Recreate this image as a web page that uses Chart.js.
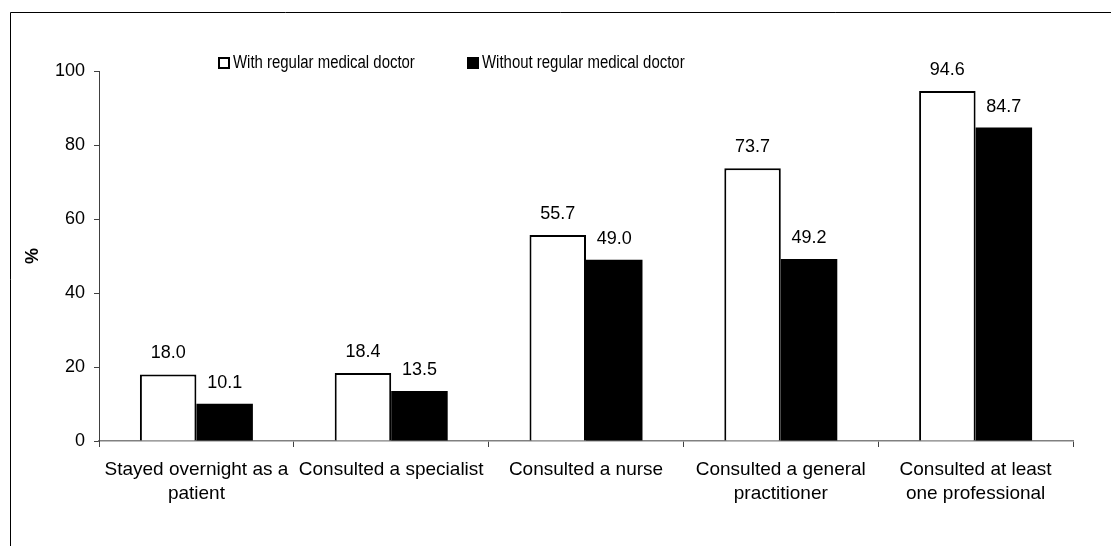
<!DOCTYPE html>
<html>
<head>
<meta charset="utf-8">
<script src="https://cdn.jsdelivr.net/npm/chart.js@4/dist/chart.umd.min.js"></script>
<style>
html,body{margin:0;padding:0;background:#fff;}
#wrap{width:1111px;height:546px;position:relative;}
</style>
</head>
<body>
<div id="wrap"><canvas id="c" width="1111" height="546"></canvas></div>
<script>
const categories = [
  ['Stayed overnight as a', 'patient'],
  ['Consulted a specialist'],
  ['Consulted a nurse'],
  ['Consulted a general', 'practitioner'],
  ['Consulted at least', 'one professional']
];
const seriesNames = ['With regular medical doctor', 'Without regular medical doctor'];
const withDoctor = [18.0, 18.4, 55.7, 73.7, 94.6];
const withoutDoctor = [10.1, 13.5, 49.0, 49.2, 84.7];
const yTicks = [0, 20, 40, 60, 80, 100];

const FONT = "'Liberation Sans', Arial, sans-serif";

const framePlugin = {
  id: 'frame',
  beforeDraw(chart) {
    const ctx = chart.ctx;
    ctx.save();
    ctx.fillStyle = '#fff';
    ctx.fillRect(0, 0, chart.width, chart.height);
    ctx.strokeStyle = '#000';
    ctx.lineWidth = 1;
    ctx.beginPath();
    ctx.moveTo(10.5, chart.height);
    ctx.lineTo(10.5, 12.5);
    ctx.lineTo(chart.width, 12.5);
    ctx.stroke();
    ctx.restore();
  }
};

const valueLabelPlugin = {
  id: 'valueLabels',
  afterDatasetsDraw(chart) {
    const ctx = chart.ctx;
    ctx.save();
    ctx.font = '18px ' + FONT;
    ctx.fillStyle = '#000';
    ctx.textAlign = 'center';
    ctx.textBaseline = 'middle';
    chart.data.datasets.forEach((ds, di) => {
      const meta = chart.getDatasetMeta(di);
      meta.data.forEach((bar, i) => {
        ctx.fillText(ds.data[i].toFixed(1), bar.x, bar.y - 21);
      });
    });
    ctx.restore();
  }
};

const legendPlugin = {
  id: 'customLegend',
  afterDraw(chart) {
    const ctx = chart.ctx;
    const xs = [218, 467];
    const cy = 63;
    ctx.save();
    ctx.font = '18px ' + FONT;
    ctx.textBaseline = 'middle';
    ctx.textAlign = 'left';
    chart.data.datasets.forEach((ds, i) => {
      const x = xs[i];
      ctx.fillStyle = ds.backgroundColor;
      ctx.fillRect(x, cy - 6, 12, 12);
      ctx.strokeStyle = '#000';
      ctx.lineWidth = 2;
      ctx.strokeRect(x + 1, cy - 5, 10, 10);
      ctx.fillStyle = '#000';
      ctx.save();
      ctx.translate(x + 15, cy);
      ctx.scale(0.83, 1);
      ctx.fillText(ds.label, 0, 0);
      ctx.restore();
    });
    ctx.restore();
  }
};

new Chart(document.getElementById('c'), {
  type: 'bar',
  data: {
    labels: categories,
    datasets: [
      { label: seriesNames[0], data: withDoctor, backgroundColor: '#ffffff', borderColor: '#000', borderWidth: 2, borderSkipped: 'bottom' },
      { label: seriesNames[1], data: withoutDoctor, backgroundColor: '#000000', borderColor: '#000', borderWidth: 0 }
    ]
  },
  options: {
    responsive: false,
    animation: false,
    devicePixelRatio: 1,
    layout: { padding: { left: 0, top: 71, right: 38, bottom: 0 } },
    plugins: {
      legend: { display: false },
      tooltip: { enabled: false }
    },
    datasets: { bar: { categoryPercentage: 0.58, barPercentage: 1.0 } },
    scales: {
      x: {
        offset: true,
        grid: { offset: true, drawOnChartArea: false, drawTicks: true, tickLength: 6, color: '#808080', tickColor: '#404040' },
        border: { display: true, color: '#808080', width: 1.5 },
        ticks: { color: '#000', font: { family: FONT, size: 19, lineHeight: '24px' }, maxRotation: 0, autoSkip: false, padding: 11 },
        afterFit(s) { s.height = 105; }
      },
      y: {
        min: 0, max: 100,
        afterBuildTicks(s) { s.ticks = yTicks.map(v => ({ value: v })); },
        grid: { drawOnChartArea: false, drawTicks: true, tickLength: 5, tickColor: '#404040' },
        border: { display: true, color: '#404040', width: 1 },
        ticks: { color: '#000', font: { family: FONT, size: 18 }, padding: 9 },
        title: { display: true, text: '%', color: '#000', font: { family: FONT, size: 18, weight: 'bold' }, padding: { top: 22, bottom: 0 } },
        afterFit(s) { s.width = 99; }
      }
    }
  },
  plugins: [framePlugin, valueLabelPlugin, legendPlugin]
});
</script>
</body>
</html>
